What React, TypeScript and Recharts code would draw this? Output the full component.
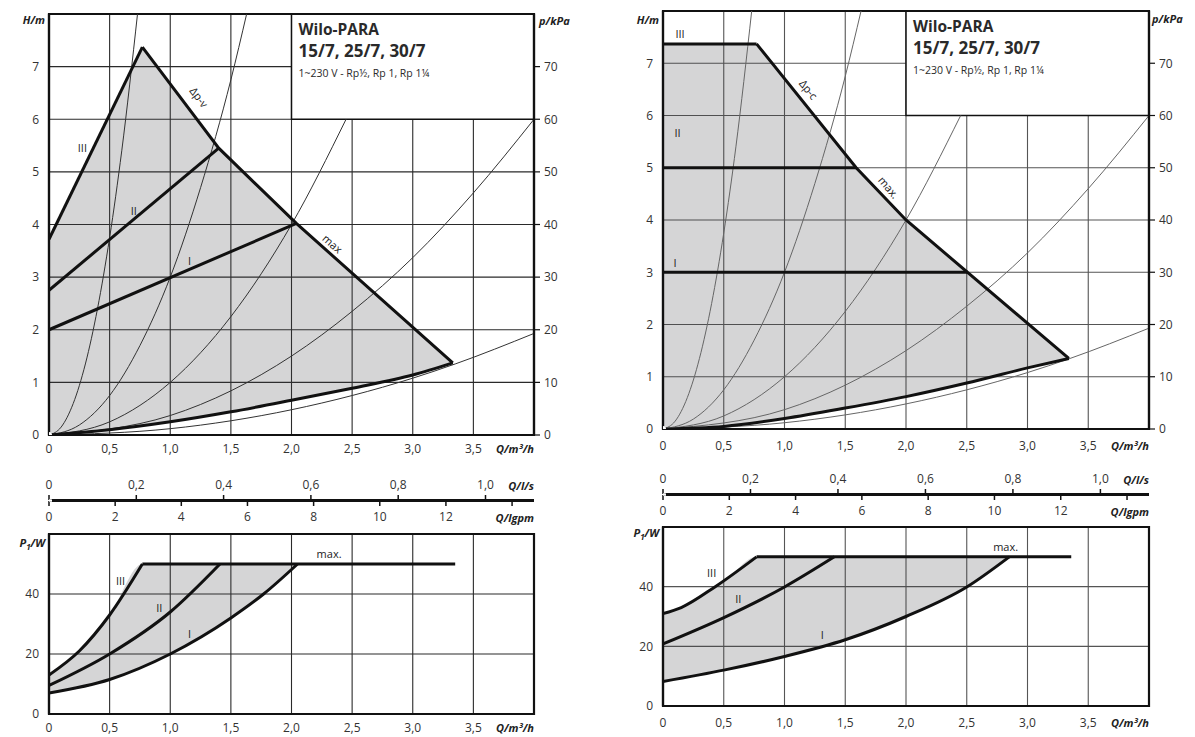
import React from "react";
import {
  ComposedChart,
  Line,
  Area,
  Scatter,
  XAxis,
  YAxis,
  CartesianGrid,
  ReferenceArea,
} from "recharts";

const FONT = "'Open Sans', 'DejaVu Sans', Arial, sans-serif";

// ---------- axes ----------
const qTicks = [0, 0.5, 1, 1.5, 2, 2.5, 3, 3.5, 4];
const hTicks = [0, 1, 2, 3, 4, 5, 6, 7, 8];
const kpaTicks = [0, 10, 20, 30, 40, 50, 60, 70];
const pTicks = [0, 20, 40, 60];
const lsTicks = [0, 0.2, 0.4, 0.6, 0.8, 1.0];
const gpmTicks = [0, 2, 4, 6, 8, 10, 12, 14];
const M3H_PER_LS = 3.6;
const M3H_PER_IGPM = 0.2728;

// ---------- system curves (shared by both H charts) ----------
const sysA = [
  { q: 0, h: 0 }, { q: 0.1, h: 0.15 }, { q: 0.2, h: 0.6 }, { q: 0.3, h: 1.35 },
  { q: 0.4, h: 2.4 }, { q: 0.5, h: 3.75 }, { q: 0.6, h: 5.4 }, { q: 0.73, h: 8 },
];
const sysB = [
  { q: 0, h: 0 }, { q: 0.25, h: 0.19 }, { q: 0.5, h: 0.75 }, { q: 0.75, h: 1.7 },
  { q: 1.0, h: 3.0 }, { q: 1.25, h: 4.7 }, { q: 1.5, h: 6.75 }, { q: 1.63, h: 8 },
];
const sysC = [
  { q: 0, h: 0 }, { q: 0.5, h: 0.25 }, { q: 1.0, h: 1.0 }, { q: 1.5, h: 2.25 },
  { q: 2.0, h: 4.0 }, { q: 2.45, h: 6.0 },
];
const sysD = [
  { q: 0, h: 0 }, { q: 1, h: 0.37 }, { q: 2, h: 1.5 }, { q: 2.5, h: 2.35 },
  { q: 3, h: 3.37 }, { q: 3.5, h: 4.6 }, { q: 4, h: 6.0 },
];
const sysE = [
  { q: 0, h: 0 }, { q: 1, h: 0.12 }, { q: 2, h: 0.48 }, { q: 2.5, h: 0.75 },
  { q: 3, h: 1.08 }, { q: 3.35, h: 1.35 }, { q: 4, h: 1.93 },
];

// ---------- left: Δp-v ----------
const vFill = [
  { q: 0, r: [0, 3.72] }, { q: 0.25, r: [0.04, 4.89] }, { q: 0.5, r: [0.1, 6.08] },
  { q: 0.77, r: [0.18, 7.37] }, { q: 1.0, r: [0.25, 6.67] }, { q: 1.4, r: [0.4, 5.45] },
  { q: 1.5, r: [0.44, 5.23] }, { q: 2.0, r: [0.66, 4.11] }, { q: 2.04, r: [0.68, 4.02] },
  { q: 2.5, r: [0.89, 3.08] }, { q: 3.0, r: [1.14, 2.05] }, { q: 3.33, r: [1.37, 1.37] },
];
const vIII = [{ q: 0, h: 3.72 }, { q: 0.77, h: 7.37 }];
const vII = [{ q: 0, h: 2.75 }, { q: 1.4, h: 5.45 }];
const vI = [{ q: 0, h: 2.0 }, { q: 2.04, h: 4.02 }];
const vMax = [{ q: 0.77, h: 7.37 }, { q: 1.4, h: 5.45 }, { q: 2.04, h: 4.02 }, { q: 3.33, h: 1.37 }];
const vMin = [
  { q: 0, h: 0 }, { q: 0.5, h: 0.1 }, { q: 1.0, h: 0.25 }, { q: 1.5, h: 0.44 },
  { q: 2.0, h: 0.66 }, { q: 2.5, h: 0.89 }, { q: 3.0, h: 1.14 }, { q: 3.33, h: 1.37 },
];
const vLabels = [
  { q: 0.275, h: 5.47, text: "III", angle: 0 },
  { q: 0.7, h: 4.26, text: "II", angle: 0 },
  { q: 1.16, h: 3.32, text: "I", angle: 0 },
  { q: 1.24, h: 6.42, text: "Δp-v", angle: 53 },
  { q: 2.34, h: 3.64, text: "max", angle: 42 },
];

// left power
const vpFill = [
  { q: 0, r: [7, 13] }, { q: 0.25, r: [8.5, 21] }, { q: 0.5, r: [11.5, 33] },
  { q: 0.77, r: [15.8, 50] }, { q: 1.0, r: [20, 50] }, { q: 1.41, r: [29.5, 50] },
  { q: 1.5, r: [32, 50] }, { q: 1.77, r: [40, 50] }, { q: 2.05, r: [50, 50] },
];
const vpIII = [{ q: 0, h: 13 }, { q: 0.25, h: 21 }, { q: 0.5, h: 33 }, { q: 0.77, h: 50 }];
const vpII = [{ q: 0, h: 9.5 }, { q: 0.5, h: 20 }, { q: 1.0, h: 34 }, { q: 1.41, h: 50 }];
const vpI = [{ q: 0, h: 7 }, { q: 0.5, h: 11.5 }, { q: 1.0, h: 20 }, { q: 1.5, h: 32 }, { q: 1.77, h: 40 }, { q: 2.05, h: 50 }];
const vpMax = [{ q: 0.77, h: 50 }, { q: 3.35, h: 50 }];
const vpLabels = [
  { q: 0.59, h: 44.4, text: "III", angle: 0 },
  { q: 0.91, h: 35.5, text: "II", angle: 0 },
  { q: 1.16, h: 26.7, text: "I", angle: 0 },
  { q: 2.31, h: 53.5, text: "max.", angle: 0 },
];

// ---------- right: Δp-c ----------
const cFill = [
  { q: 0, r: [0, 7.37] }, { q: 0.5, r: [0.05, 7.37] }, { q: 0.77, r: [0.12, 7.37] },
  { q: 1.0, r: [0.2, 6.71] }, { q: 1.59, r: [0.44, 5.0] }, { q: 2.0, r: [0.62, 4.0] },
  { q: 2.5, r: [0.88, 3.01] }, { q: 3.0, r: [1.17, 2.02] }, { q: 3.34, r: [1.35, 1.35] },
];
const cIII = [{ q: 0, h: 7.37 }, { q: 0.77, h: 7.37 }];
const cII = [{ q: 0, h: 5.0 }, { q: 1.59, h: 5.0 }];
const cI = [{ q: 0, h: 3.0 }, { q: 2.51, h: 3.0 }];
const cMax = [{ q: 0.77, h: 7.37 }, { q: 1.59, h: 5.0 }, { q: 2.0, h: 4.0 }, { q: 3.34, h: 1.35 }];
const cMin = [
  { q: 0, h: 0 }, { q: 0.5, h: 0.05 }, { q: 1.0, h: 0.2 }, { q: 1.5, h: 0.4 },
  { q: 2.0, h: 0.62 }, { q: 2.5, h: 0.88 }, { q: 3.0, h: 1.17 }, { q: 3.34, h: 1.35 },
];
const cLabels = [
  { q: 0.14, h: 7.56, text: "III", angle: 0 },
  { q: 0.12, h: 5.68, text: "II", angle: 0 },
  { q: 0.1, h: 3.19, text: "I", angle: 0 },
  { q: 1.2, h: 6.5, text: "Δp-c", angle: 51 },
  { q: 1.86, h: 4.63, text: "max.", angle: 50 },
];

// right power
const cpFill = [
  { q: 0, r: [8.2, 31] }, { q: 0.15, r: [9.3, 33] }, { q: 0.43, r: [11.3, 40] },
  { q: 0.51, r: [12.1, 42] }, { q: 0.77, r: [14.5, 50] }, { q: 1.0, r: [16.6, 50] },
  { q: 1.5, r: [22.2, 50] }, { q: 2.0, r: [30, 50] }, { q: 2.5, r: [39.9, 50] },
  { q: 2.85, r: [50, 50] },
];
const cpIII = [{ q: 0, h: 31 }, { q: 0.15, h: 33 }, { q: 0.43, h: 40 }, { q: 0.77, h: 50 }];
const cpII = [{ q: 0, h: 20.8 }, { q: 0.51, h: 29.8 }, { q: 1.0, h: 39.9 }, { q: 1.41, h: 50 }];
const cpI = [
  { q: 0, h: 8.2 }, { q: 0.51, h: 12.1 }, { q: 1.0, h: 16.6 }, { q: 1.5, h: 22.2 },
  { q: 2.0, h: 30 }, { q: 2.5, h: 39.9 }, { q: 2.85, h: 50 },
];
const cpMax = [{ q: 0.77, h: 50 }, { q: 3.36, h: 50 }];
const cpLabels = [
  { q: 0.4, h: 44.6, text: "III", angle: 0 },
  { q: 0.62, h: 36.2, text: "II", angle: 0 },
  { q: 1.31, h: 23.9, text: "I", angle: 0 },
  { q: 2.82, h: 53.5, text: "max.", angle: 0 },
];

// ---------- helpers ----------
const fmtComma = (v: number) => (v === 0 ? "0" : v.toFixed(1).replace(".", ","));
const fmtQ = (v: number) => (v === 4 ? "" : fmtComma(v));
const fmtH = (v: number) => (v === 8 ? "" : String(v));
const fmtP = (v: number) => (v === 60 ? "" : String(v));
const fmtGpm = (v: number) => (v === 14 ? "" : String(v));

const TextMark = (props: any) => {
  const { cx, cy, payload } = props;
  if (cx == null || cy == null) return <g />;
  const a = payload.angle || 0;
  return (
    <text
      x={cx}
      y={cy}
      textAnchor="middle"
      dominantBaseline="central"
      fontSize={11}
      fontFamily={FONT}
      fill="#222"
      transform={a ? `rotate(${a} ${cx} ${cy})` : undefined}
    >
      {payload.text}
    </text>
  );
};

const boxLabel = (dx: number, dy: number) => (props: any) => {
  const vb = props.viewBox || {};
  const x = vb.x + dx;
  const y = vb.y + dy;
  return (
    <g fontFamily={FONT} fill="#2a2a2a">
      <text x={x} y={y + 21} fontSize={15.5} fontWeight={700}>Wilo-PARA</text>
      <text x={x} y={y + 43} fontSize={17} fontWeight={700}>15/7, 25/7, 30/7</text>
      <text x={x} y={y + 63} fontSize={10.5}>1~230 V - Rp½, Rp 1, Rp 1¼</text>
    </g>
  );
};

const xTitle = (text: string, dy: number) => (props: any) => {
  const vb = props.viewBox || {};
  return (
    <text x={vb.x + vb.width} y={vb.y + dy} textAnchor="end" fontSize={11} fontWeight={700}
      fontStyle="italic" fontFamily={FONT} fill="#222">{text}</text>
  );
};

const yTitleLeft = (text: React.ReactNode, dx: number, dy: number) => (props: any) => {
  const vb = props.viewBox || {};
  return (
    <text x={vb.x + vb.width - dx} y={vb.y + dy} textAnchor="end" fontSize={11} fontWeight={700}
      fontStyle="italic" fontFamily={FONT} fill="#222">{text}</text>
  );
};

const yTitleRight = (text: string, dx: number, dy: number) => (props: any) => {
  const vb = props.viewBox || {};
  return (
    <text x={vb.x + dx} y={vb.y + dy} textAnchor="start" fontSize={11} fontWeight={700}
      fontStyle="italic" fontFamily={FONT} fill="#222">{text}</text>
  );
};

const tickStyle = { fontSize: 12, fill: "#333", fontFamily: FONT };

type HProps = {
  fill: any[]; III: any[]; II: any[]; I: any[]; max: any[]; min: any[]; labels: any[];
  width: number; height: number; top: number; yLeftW: number; yRightW: number; xH: number;
  grid: string; thin: string; tickMargin: number; titleDy: number; hDy: number; kDx: number; kDy: number;
};

const HChart = (p: HProps) => (
  <ComposedChart width={p.width} height={p.height} margin={{ top: p.top, right: 0, left: 0, bottom: 0 }}>
    <CartesianGrid stroke={p.grid} strokeWidth={1.1} />
    <XAxis type="number" dataKey="q" domain={[0, 4]} ticks={qTicks} allowDataOverflow
      tickFormatter={fmtQ} tick={tickStyle} tickLine={false} tickSize={6} tickMargin={p.tickMargin}
      axisLine={{ stroke: "#111", strokeWidth: 2.2 }} height={p.xH} interval={0}
      label={xTitle("Q/m³/h", p.titleDy)} />
    <YAxis type="number" domain={[0, 8]} ticks={hTicks} allowDataOverflow tickFormatter={fmtH}
      tick={tickStyle} tickLine={false} tickSize={6} tickMargin={4} width={p.yLeftW} interval={0}
      axisLine={{ stroke: "#111", strokeWidth: 2.2 }} label={yTitleLeft("H/m", 4, p.hDy)} />
    <YAxis yAxisId="kpa" orientation="right" type="number" domain={[0, 80]} ticks={kpaTicks}
      allowDataOverflow tick={tickStyle} tickLine={{ stroke: "#111", strokeWidth: 1.2 }} tickSize={6}
      tickMargin={4} width={p.yRightW} interval={0} axisLine={{ stroke: "#111", strokeWidth: 2.2 }}
      label={yTitleRight("p/kPa", p.kDx, p.kDy)} />
    <Area data={p.fill} dataKey="r" type="linear" stroke="none" fill="#414146" fillOpacity={0.22}
      isAnimationActive={false} />
    {[sysA, sysB, sysC, sysD, sysE].map((d, i) => (
      <Line key={i} data={d} dataKey="h" type="monotone" stroke={p.thin} strokeWidth={1} dot={false}
        activeDot={false} isAnimationActive={false} />
    ))}
    <Line data={p.min} dataKey="h" type="monotone" stroke="#111" strokeWidth={3} dot={false} isAnimationActive={false} />
    <Line data={p.I} dataKey="h" type="linear" stroke="#111" strokeWidth={3} dot={false} isAnimationActive={false} />
    <Line data={p.II} dataKey="h" type="linear" stroke="#111" strokeWidth={3} dot={false} isAnimationActive={false} />
    <Line data={p.III} dataKey="h" type="linear" stroke="#111" strokeWidth={3} dot={false} isAnimationActive={false} />
    <Line data={p.max} dataKey="h" type="linear" stroke="#111" strokeWidth={3} dot={false} isAnimationActive={false} />
    <Line yAxisId="kpa" data={[{ q: 0, h: 0 }]} dataKey="h" stroke="none" dot={false} isAnimationActive={false} />
    <ReferenceArea x1={2} x2={4} y1={6} y2={8} fill="#ffffff" fillOpacity={1} stroke="#111"
      strokeWidth={1.5} label={boxLabel(7, 0)} />
    <ReferenceArea x1={0} x2={4} y1={0} y2={8} fill="none" stroke="#111" strokeWidth={2.2} />
    <Scatter data={p.labels} dataKey="h" shape={TextMark} isAnimationActive={false} />
  </ComposedChart>
);

type PProps = {
  fill: any[]; III: any[]; II: any[]; I: any[]; max: any[]; labels: any[];
  width: number; height: number; top: number; right: number; yLeftW: number; xH: number;
  grid: string; tickMargin: number; titleDy: number; pDy: number;
};

const PChart = (p: PProps) => (
  <ComposedChart width={p.width} height={p.height} margin={{ top: p.top, right: p.right, left: 0, bottom: 0 }}>
    <CartesianGrid stroke={p.grid} strokeWidth={1.1} />
    <XAxis type="number" dataKey="q" domain={[0, 4]} ticks={qTicks} allowDataOverflow
      tickFormatter={fmtQ} tick={tickStyle} tickLine={false} tickSize={6} tickMargin={p.tickMargin}
      axisLine={{ stroke: "#111", strokeWidth: 2.2 }} height={p.xH} interval={0}
      label={xTitle("Q/m³/h", p.titleDy)} />
    <YAxis type="number" domain={[0, 60]} ticks={pTicks} allowDataOverflow tickFormatter={fmtP}
      tick={tickStyle} tickLine={false} tickSize={6} tickMargin={4} width={p.yLeftW} interval={0}
      axisLine={{ stroke: "#111", strokeWidth: 2.2 }}
      label={yTitleLeft(<>P<tspan fontSize={8} dy={3}>1</tspan><tspan dy={-3}>/W</tspan></>, 4, p.pDy)} />
    <Area data={p.fill} dataKey="r" type="monotone" stroke="none" fill="#414146" fillOpacity={0.22}
      isAnimationActive={false} />
    <Line data={p.I} dataKey="h" type="monotone" stroke="#111" strokeWidth={3} dot={false} isAnimationActive={false} />
    <Line data={p.II} dataKey="h" type="monotone" stroke="#111" strokeWidth={3} dot={false} isAnimationActive={false} />
    <Line data={p.III} dataKey="h" type="monotone" stroke="#111" strokeWidth={3} dot={false} isAnimationActive={false} />
    <Line data={p.max} dataKey="h" type="linear" stroke="#111" strokeWidth={3} dot={false} isAnimationActive={false} />
    <ReferenceArea x1={0} x2={4} y1={0} y2={60} fill="none" stroke="#111" strokeWidth={2.2} />
    <Scatter data={p.labels} dataKey="h" shape={TextMark} isAnimationActive={false} />
  </ComposedChart>
);

const Strip = ({ width, left, right }: { width: number; left: number; right: number }) => (
  <ComposedChart width={width} height={60} margin={{ top: 0, right, left, bottom: 0 }}>
    <XAxis xAxisId="ls" orientation="top" type="number" dataKey="q" domain={[0, 4 / M3H_PER_LS]}
      ticks={lsTicks} allowDataOverflow tickFormatter={fmtComma} tick={tickStyle} tickSize={5}
      tickMargin={6} tickLine={{ stroke: "#111", strokeWidth: 1.5 }} interval={0}
      axisLine={{ stroke: "#111", strokeWidth: 2 }} height={30} label={xTitle("Q/l/s", 20)} />
    <XAxis xAxisId="gpm" orientation="bottom" type="number" dataKey="q"
      domain={[0, 4 / M3H_PER_IGPM]} ticks={gpmTicks} allowDataOverflow tickFormatter={fmtGpm}
      tick={tickStyle} tickSize={5} tickMargin={6} tickLine={{ stroke: "#111", strokeWidth: 1.5 }}
      interval={0} axisLine={{ stroke: "#111", strokeWidth: 2 }} height={29}
      label={xTitle("Q/lgpm", 21)} />
    <YAxis hide domain={[0, 1]} type="number" />
    <Line xAxisId="ls" data={[{ q: 0, h: 0 }]} dataKey="h" stroke="none" dot={false} isAnimationActive={false} />
    <Line xAxisId="gpm" data={[{ q: 0, h: 0 }]} dataKey="h" stroke="none" dot={false} isAnimationActive={false} />
  </ComposedChart>
);

const abs = (left: number, top: number): React.CSSProperties => ({ position: "absolute", left, top });

export default function App() {
  return (
    <div style={{ position: "absolute", left: 0, top: 0, width: 1195, height: 737, background: "#fff",
      overflow: "hidden", fontFamily: FONT }}>
      <div style={abs(0, 0)}>
        <HChart fill={vFill} III={vIII} II={vII} I={vI} max={vMax} min={vMin} labels={vLabels}
          width={600} height={470} top={14} yLeftW={49} yRightW={66} xH={35} grid="#2a2a2a"
          thin="#333" tickMargin={3} titleDy={18} hDy={10} kDx={5} kDy={11} />
      </div>
      <div style={abs(0, 470)}>
        <Strip width={600} left={49} right={66} />
      </div>
      <div style={abs(0, 520)}>
        <PChart fill={vpFill} III={vpIII} II={vpII} I={vpI} max={vpMax} labels={vpLabels}
          width={600} height={217} top={14} right={66} yLeftW={49} xH={23} grid="#2a2a2a"
          tickMargin={3} titleDy={18} pDy={13} />
      </div>
      <div style={abs(600, 0)}>
        <HChart fill={cFill} III={cIII} II={cII} I={cI} max={cMax} min={cMin} labels={cLabels}
          width={595} height={460} top={11} yLeftW={63} yRightW={46} xH={31} grid="#555"
          thin="#666" tickMargin={6} titleDy={21} hDy={13} kDx={3} kDy={12} />
      </div>
      <div style={abs(600, 464)}>
        <Strip width={595} left={63} right={46} />
      </div>
      <div style={abs(600, 515)}>
        <PChart fill={cpFill} III={cpIII} II={cpII} I={cpI} max={cpMax} labels={cpLabels}
          width={595} height={222} top={12} right={46} yLeftW={63} xH={31} grid="#555"
          tickMargin={6} titleDy={21} pDy={10} />
      </div>
    </div>
  );
}
